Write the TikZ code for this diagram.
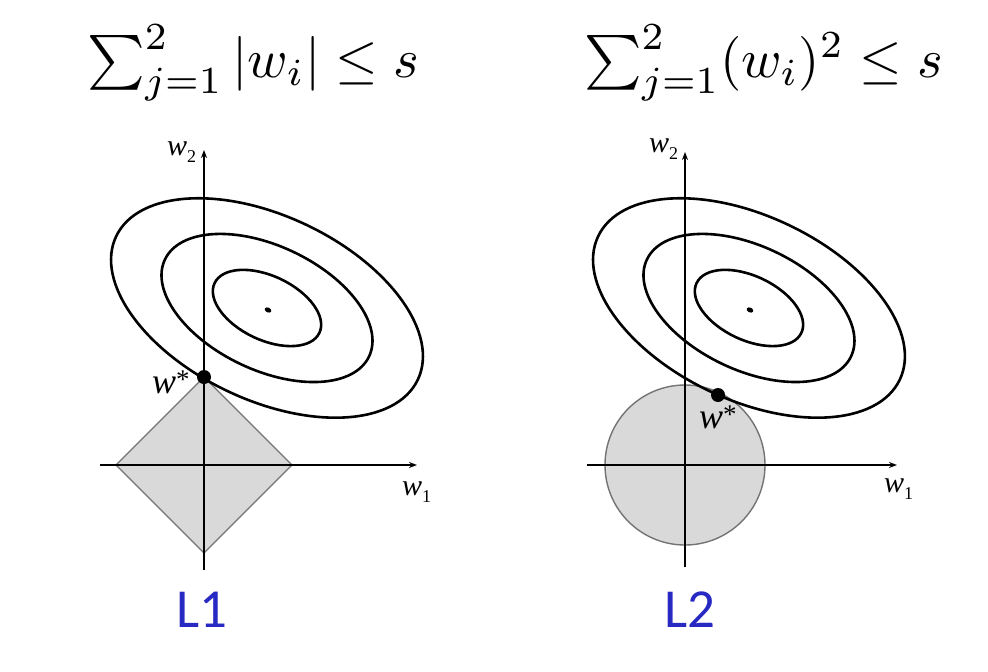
\documentclass[tikz,border=0pt]{standalone}
\usepackage{fontspec}
\usepackage{graphicx}
\usetikzlibrary{arrows.meta}
\newfontfamily\wfont{Liberation Serif}
\newfontfamily\lfont{Carlito}
\definecolor{shapefill}{RGB}{217,217,217}
\definecolor{shapeedge}{RGB}{115,115,115}
\definecolor{lblue}{RGB}{40,40,195}
\tikzset{
  axisline/.style={line width=1.8pt, black, -{Stealth[length=8pt,width=6pt]}},
  ell/.style={line width=2.6pt, black},
  region/.style={fill=shapefill, draw=shapeedge, line width=1.4pt},
  optdot/.style={fill=black, draw=none},
  lab/.style={inner sep=0pt, outer sep=0pt},
  wtxt/.style={lab, font=\fontsize{30}{36}\selectfont\wfont\itshape},
  wstar/.style={lab, font=\fontsize{36}{40}\selectfont\wfont\itshape},
  normlab/.style={lab, text=lblue, font=\fontsize{55}{60}\selectfont\lfont},
}
\newcommand{\subdig}[1]{\raisebox{-7pt}{\fontsize{18}{20}\selectfont\upshape #1}}
\newcommand{\starsup}{\raisebox{5pt}{\fontsize{27}{27}\selectfont\upshape *}}
\begin{document}
\begin{tikzpicture}[x=1pt, y={(0pt,-1pt)}]
  \path[use as bounding box, fill=white] (0,0) rectangle (988,672);

  % ---------- titles ----------
  \node[lab, anchor=base west] (t1) at (87,77)
    {\resizebox{332pt}{!}{$\sum_{j=1}^{2}|w_i|\le s$}};
  \node[lab, anchor=base west] (t2) at (584,77)
    {\resizebox{359pt}{!}{$\sum_{j=1}^{2}(w_i)^2\le s$}};

  % ================= LEFT (L1) =================
  \coordinate (oL) at (204,465);
  \coordinate (cL) at (267,308);
  \coordinate (xLa) at (100,465);
  \coordinate (xLb) at (417,465);
  \coordinate (yLa) at (204,570);
  \coordinate (yLb) at (204,150);
  \coordinate (dT) at (204,377);
  \coordinate (dB) at (204,553);
  \coordinate (dLft) at (116,465);
  \coordinate (dRgt) at (292,465);

  \draw[region] (dT) -- (dRgt) -- (dB) -- (dLft) -- cycle;
  \draw[axisline] (xLa) -- (xLb);
  \draw[axisline] (yLa) -- (yLb);

  \draw[ell, rotate around={-25.4:(cL)}] (cL) ellipse [x radius=167pt, y radius=92pt];
  \draw[ell, rotate around={-25.4:(cL)}] (cL) ellipse [x radius=113pt, y radius=62pt];
  \draw[ell, rotate around={-25.4:(cL)}] (cL) ellipse [x radius=58pt, y radius=32pt];
  \fill[rotate around={-25.4:(268,310)}] (268,310) ellipse [x radius=3.5pt, y radius=2.4pt];

  \fill[optdot] (dT) circle [radius=7pt];

  \node[wtxt, anchor=base west] (w2L) at (167,155) {w\subdig{2}};
  \node[wtxt, anchor=base west] (w1L) at (402,495) {w\subdig{1}};
  \node[wstar, anchor=base west] (wsL) at (152,393) {w\starsup};
  \node[normlab, anchor=base] (L1) at (202,627) {L1};

  % ================= RIGHT (L2) =================
  \coordinate (oR) at (685,465);
  \coordinate (cR) at (749,308);
  \coordinate (xRa) at (587,465);
  \coordinate (xRb) at (897,465);
  \coordinate (yRa) at (685,567);
  \coordinate (yRb) at (685,152);
  \coordinate (pR) at (718,395);

  \draw[region] (oR) circle [radius=80pt];
  \draw[axisline] (xRa) -- (xRb);
  \draw[axisline] (yRa) -- (yRb);

  \draw[ell, rotate around={-25.4:(cR)}] (cR) ellipse [x radius=167pt, y radius=92pt];
  \draw[ell, rotate around={-25.4:(cR)}] (cR) ellipse [x radius=113pt, y radius=62pt];
  \draw[ell, rotate around={-25.4:(cR)}] (cR) ellipse [x radius=58pt, y radius=32pt];
  \fill[rotate around={-25.4:(750,310)}] (750,310) ellipse [x radius=3.5pt, y radius=2.4pt];

  \fill[optdot] (pR) circle [radius=7pt];

  \node[wtxt, anchor=base west] (w2R) at (649,152) {w\subdig{2}};
  \node[wtxt, anchor=base west] (w1R) at (884,492) {w\subdig{1}};
  \node[wstar, anchor=base west] (wsR) at (699,428) {w\starsup};
  \node[normlab, anchor=base] (L2) at (690,627) {L2};
\end{tikzpicture}
\end{document}
